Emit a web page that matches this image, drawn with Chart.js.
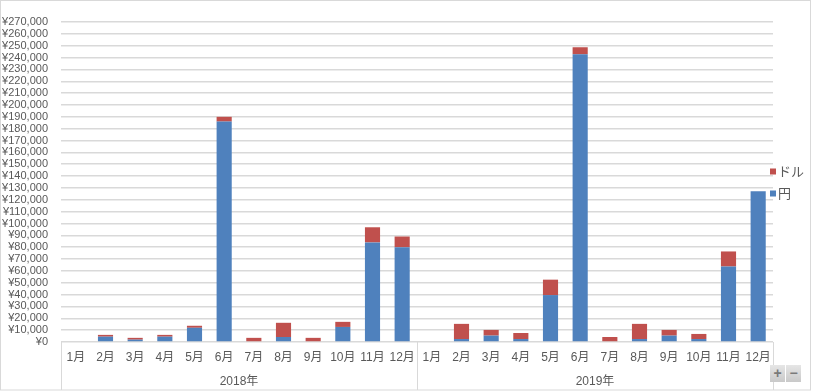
<!DOCTYPE html>
<html>
<head>
<meta charset="utf-8">
<script src="https://cdn.jsdelivr.net/npm/chart.js@4"></script>
<style>
  html, body { margin: 0; padding: 0; background: #fff; }
  #wrap { position: absolute; left: 0; top: 0; width: 813px; height: 391px; }
  .zbtn {
    position: absolute; top: 365px; width: 15px; height: 17px;
    background: linear-gradient(#e6e6e6, #c9c9c9);
    color: #7a7a7a; font: bold 14px "Liberation Sans", sans-serif;
    text-align: center; line-height: 17px;
  }
</style>
</head>
<body>
<div id="wrap"><canvas id="chart"></canvas></div>
<div class="zbtn" style="left:770px">+</div>
<div class="zbtn" style="left:786px">−</div>
<script>
const years = ["2018年", "2019年"];
const months = ["1月", "2月", "3月", "4月", "5月", "6月", "7月", "8月", "9月", "10月", "11月", "12月"];

const yen2018 = [0, 4500, 2000, 4500, 12000, 186000, 0, 4200, 0, 12700, 84000, 80000];
const dollar2018 = [0, 1500, 1500, 1500, 1700, 4000, 3500, 12000, 3500, 4300, 12800, 9000];
const yen2019 = [0, 2500, 5400, 2500, 39600, 242800, 0, 2500, 5400, 2500, 63700, 127300];
const dollar2019 = [0, 12800, 4800, 5100, 13000, 5900, 4200, 12800, 4800, 4300, 12700, 0];

const FONT = "'Liberation Sans', 'Noto Sans CJK JP', sans-serif";
const TEXT = "#595959";
const GRID = "#d9d9d9";

const labels = months.concat(months);

// 年ラベル・区切り線・凡例・枠線
const extras = {
  id: "extras",
  afterDraw(chart) {
    const ctx = chart.ctx;
    const area = chart.chartArea;
    const x = chart.scales.x;

    ctx.save();
    ctx.strokeStyle = GRID;
    ctx.lineWidth = 1;
    ctx.strokeRect(0.5, 0.5, 810, 389.5);

    const mid = (x.getPixelForValue(11) + x.getPixelForValue(12)) / 2;
    [area.left, mid, area.right].forEach(px => {
      ctx.beginPath();
      ctx.moveTo(Math.round(px) + 0.5, area.bottom);
      ctx.lineTo(Math.round(px) + 0.5, 390);
      ctx.stroke();
    });

    ctx.fillStyle = TEXT;
    ctx.font = "12px " + FONT;
    ctx.textAlign = "center";
    ctx.textBaseline = "middle";
    ctx.fillText(years[0], (area.left + mid) / 2, 382);
    ctx.fillText(years[1], (mid + area.right) / 2, 382);

    // 凡例（ドルが上）
    const ds = chart.data.datasets;
    const items = [ds[1], ds[0]];
    ctx.font = "13px " + FONT;
    items.forEach((d, i) => {
      const y = 171.5 + i * 22;
      ctx.fillStyle = d.backgroundColor;
      ctx.fillRect(770, y - 3, 6, 6);
      ctx.fillStyle = TEXT;
      ctx.textAlign = "left";
      ctx.fillText(d.label, 778, y + 0.5);
    });
    ctx.restore();
  }
};

new Chart(document.getElementById("chart"), {
  type: "bar",
  data: {
    labels: labels,
    datasets: [
      {
        label: "円",
        data: yen2018.concat(yen2019),
        backgroundColor: "#4F81BD",
        categoryPercentage: 1,
        barPercentage: 0.51
      },
      {
        label: "ドル",
        data: dollar2018.concat(dollar2019),
        backgroundColor: "#C0504D",
        categoryPercentage: 1,
        barPercentage: 0.51
      }
    ]
  },
  options: {
    responsive: true,
    maintainAspectRatio: false,
    animation: false,
    layout: {
      padding: { top: 22, right: 40, bottom: 0, left: 0 }
    },
    plugins: {
      legend: { display: false },
      tooltip: { enabled: false }
    },
    scales: {
      x: {
        stacked: true,
        grid: { display: false, drawTicks: false },
        border: { display: false },
        ticks: {
          color: TEXT,
          font: { family: FONT, size: 12 },
          padding: 8,
          maxRotation: 0,
          autoSkip: false
        },
        afterFit(scale) { scale.height = 49; }
      },
      y: {
        stacked: true,
        min: 0,
        max: 270000,
        grid: { color: GRID, lineWidth: 1.5, drawTicks: false },
        border: { display: false },
        ticks: {
          stepSize: 10000,
          autoSkip: false,
          color: TEXT,
          font: { family: FONT, size: 11 },
          padding: 13,
          callback: v => "¥" + v.toLocaleString("en-US")
        },
        afterFit(scale) { scale.width = 61; }
      }
    }
  },
  plugins: [extras]
});
</script>
</body>
</html>
